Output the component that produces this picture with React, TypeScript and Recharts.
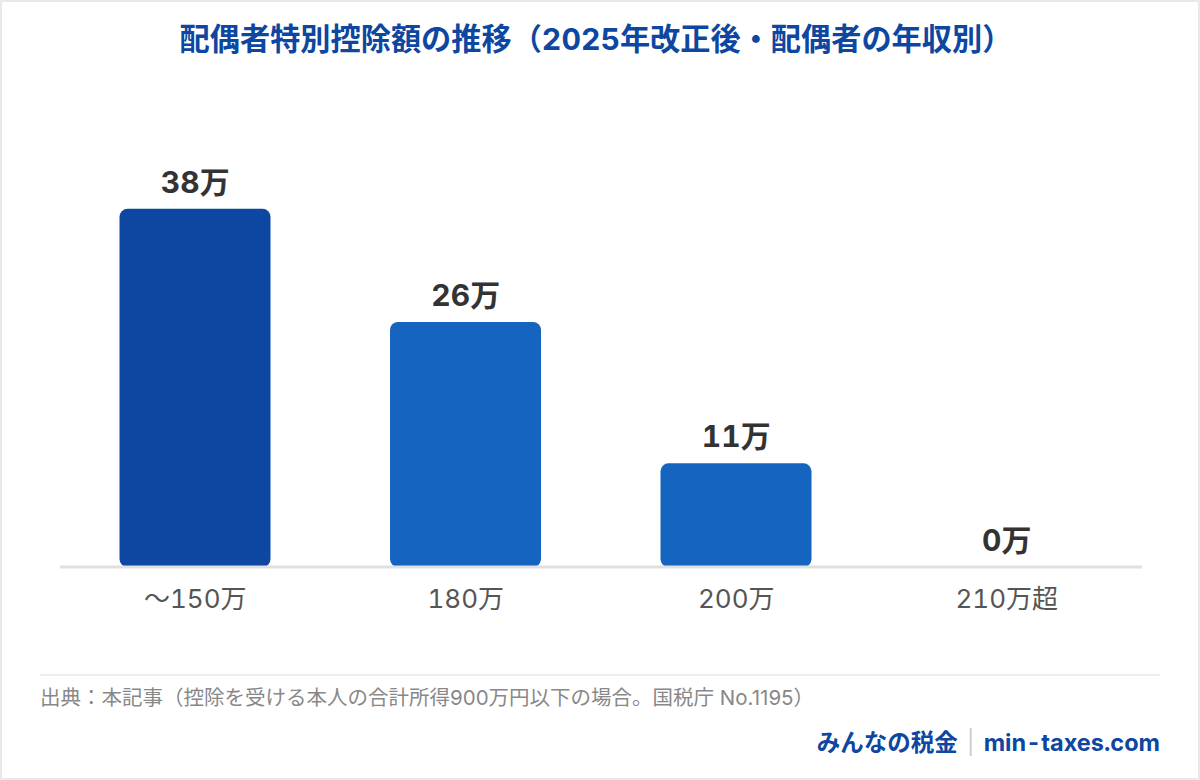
import { ComposedChart, Bar, Line, XAxis, YAxis, Cell, LabelList } from 'recharts'

// 配偶者の年収区分
const categories = ['～150万', '180万', '200万', '210万超']
// 配偶者特別控除額（万円）
const deductions = [38, 26, 11, 0]

const title = '配偶者特別控除額の推移（2025年改正後・配偶者の年収別）'
const source = '出典：本記事（控除を受ける本人の合計所得900万円以下の場合。国税庁 No.1195）'

const FONT = 'Inter, "Noto Sans CJK JP", sans-serif'
const DARK_BLUE = '#0d47a1'
const BLUE = '#1565c0'

const data = categories.map((name, i) => ({ name, value: deductions[i] }))

export default function App () {
  return (
    <div
      style={{
        position: 'fixed',
        left: 0,
        top: 0,
        width: 1200,
        height: 780,
        boxSizing: 'border-box',
        border: '2px solid #e9e9e9',
        background: '#fff',
        fontFamily: FONT,
        fontVariantNumeric: 'tabular-nums'
      }}
    >
      <div
        style={{
          position: 'absolute',
          top: 17,
          left: 0,
          right: 8,
          textAlign: 'center',
          fontSize: 30.2,
          fontWeight: 700,
          color: DARK_BLUE,
          lineHeight: '40px'
        }}
      >
        {title}
      </div>

      <div style={{ position: 'absolute', left: -2, top: -2 }}>
        <ComposedChart
          width={1200}
          height={640}
          data={data}
          margin={{ top: 190, right: 58, bottom: 0, left: 60 }}
          barCategoryGap="22%"
        >
          <XAxis
            dataKey="name"
            height={73}
            tickLine={false}
            axisLine={{ stroke: '#e0e0e0', strokeWidth: 3 }}
            tick={{ fontSize: 26, fill: '#555', fontFamily: FONT }}
            tickMargin={17}
          />
          <YAxis hide domain={[0, 40]} />
          <Bar dataKey="value" radius={8} isAnimationActive={false}>
            {data.map((d, i) => (
              <Cell key={d.name} fill={i === 0 ? DARK_BLUE : BLUE} />
            ))}
          </Bar>
          {/* 値ラベル（0万も表示するため透明の線に載せる） */}
          <Line
            dataKey="value"
            stroke="none"
            dot={false}
            activeDot={false}
            isAnimationActive={false}
          >
            <LabelList
              dataKey="value"
              position="top"
              offset={16}
              formatter={(v: number) => `${v}万`}
              style={{ fontSize: 30, fontWeight: 700, fill: '#333', fontFamily: FONT }}
            />
          </Line>
        </ComposedChart>
      </div>

      <div
        style={{
          position: 'absolute',
          left: 38,
          right: 38,
          top: 672,
          borderTop: '2px solid #eeeeee'
        }}
      />
      <div
        style={{
          position: 'absolute',
          left: 38,
          top: 682,
          fontSize: 20.5,
          color: '#888',
          lineHeight: '28px',
          fontVariantNumeric: 'normal'
        }}
      >
        {source}
      </div>
      <div
        style={{
          position: 'absolute',
          right: 38,
          top: 725,
          fontSize: 23.5,
          fontWeight: 700,
          color: DARK_BLUE,
          lineHeight: '32px'
        }}
      >
        みんなの税金
        <span style={{ color: '#ccc', fontWeight: 400, margin: '0 9px' }}>|</span>
        min-taxes.com
      </div>
    </div>
  )
}
